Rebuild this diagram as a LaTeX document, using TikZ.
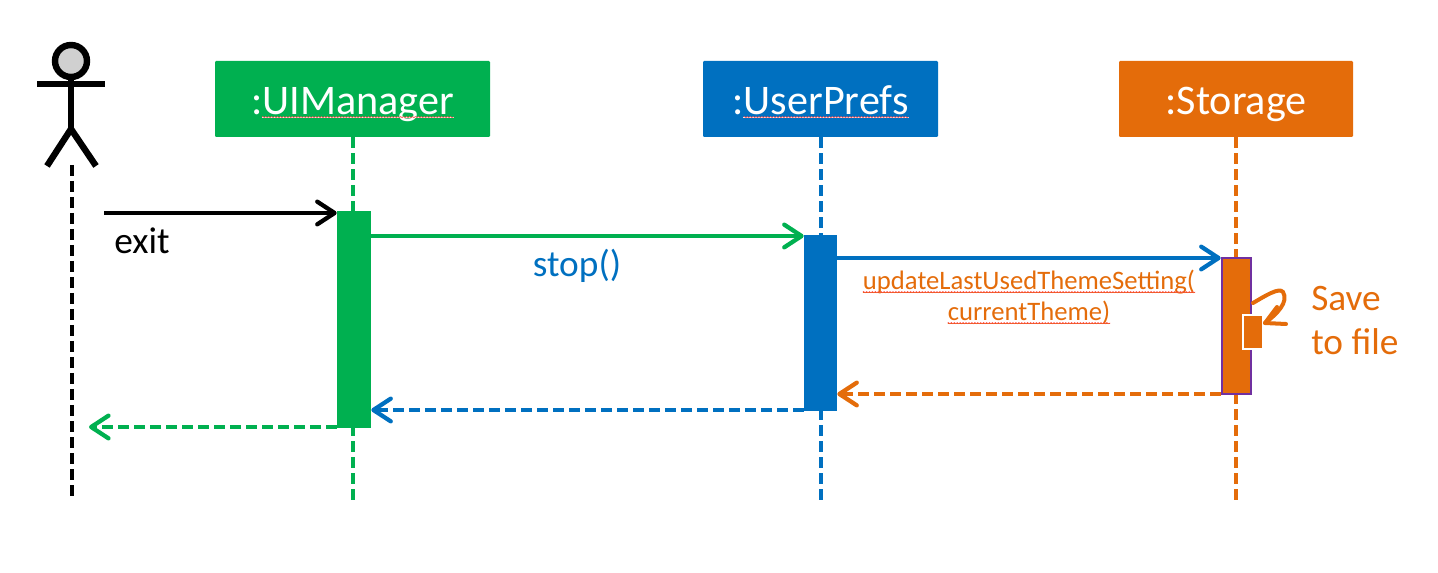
\documentclass[tikz,border=0pt]{standalone}
\usepackage{fontspec}
\setmainfont{Carlito}
\usetikzlibrary{arrows.meta,decorations.pathmorphing}
\definecolor{cgreen}{HTML}{00B050}
\definecolor{cblue}{HTML}{0070C0}
\definecolor{corange}{HTML}{E46C0A}
\definecolor{cpurple}{HTML}{7030A0}
\definecolor{chead}{HTML}{D0D0D0}
\tikzset{
  head/.style={fill=#1,draw=none,text=white,minimum height=57pt,inner sep=0pt,rounded corners=0.8pt},
  bar/.style={fill=#1,draw=none,inner sep=0pt},
  lifeline/.style={draw=#1,line width=3pt,dash pattern=on 8.3pt off 3.7pt},
  call/.style={draw=#1,line width=3.2pt,-{Straight Barb[length=13pt,width=17pt,line width=3.2pt,round]}},
  reply/.style={call=#1,dash pattern=on 8.3pt off 3.7pt},
  label/.style={inner sep=0pt,anchor=base},
  headtext/.style={label,text=white,font=\fontsize{31.6}{36}\selectfont},
  biglabel/.style={label,font=\fontsize{28}{32}\selectfont},
  smalllabel/.style={label,text=corange,font=\fontsize{20}{24}\selectfont},
  actorline/.style={draw=black,line width=4.8pt},
  squiggle/.style={draw=red!70!white,line width=0.4pt,decorate,decoration={snake,amplitude=0.5pt,segment length=2.2pt}},
}
\begin{document}
\begin{tikzpicture}[x=0.75pt,y=-0.75pt]
\useasboundingbox (0,0) rectangle (1438,573);

% heads
\node[head=cgreen,minimum width=206.25pt] (ui) at (352.5,99) {};
\node[head=cblue,minimum width=176.25pt] (up) at (820.5,99) {};
\node[head=corange,minimum width=175.5pt] (st) at (1236,99) {};
\node[headtext] (uit) at (352.5,114.5) {:UIManager};
\node[headtext] (upt) at (820.5,114.5) {:UserPrefs};
\node[headtext] (stt) at (1236,114.5) {:Storage};
\draw[white,line width=0.6pt] ([yshift=-2pt]uit.base west) ++(11,0) -- ([yshift=-2pt]uit.base east);
\draw[squiggle] ([yshift=-2pt]uit.base west) ++(11,0) -- ([yshift=-2pt]uit.base east);
\draw[white,line width=0.6pt] ([yshift=-2pt]upt.base west) ++(11,0) -- ([yshift=-2pt]upt.base east);
\draw[squiggle] ([yshift=-2pt]upt.base west) ++(11,0) -- ([yshift=-2pt]upt.base east);

% free ends
\coordinate (uiend) at (353,500);
\coordinate (upend) at (820.5,500);
\coordinate (stend) at (1236,500);
\coordinate (actop) at (72,165);
\coordinate (acend) at (72,497);
\coordinate (exitstart) at (104,213);
\coordinate (retend) at (89,427);

% lifelines
\draw[lifeline=cgreen] (uiend |- ui.south) -- (uiend);
\draw[lifeline=cblue] (up.south) -- (upend);
\draw[lifeline=corange] (st.south) -- (stend);
\draw[lifeline=black] (actop) -- (acend);

% actor
\node[circle,draw=black,fill=chead,line width=4.8pt,minimum size=24pt,inner sep=0pt] (achead) at (71,61) {};
\coordinate (arml) at (37,84);
\coordinate (armr) at (105,84);
\coordinate (hip) at (71,129);
\coordinate (legl) at (47,166);
\coordinate (legr) at (96,166);
\draw[actorline] (arml) -- (armr);
\draw[actorline] (achead.south) -- (hip);
\draw[actorline,miter limit=10] (legl) -- (hip) -- (legr);

% activations
\node[bar=cgreen,minimum width=25.5pt,minimum height=162.75pt] (a1) at (354,319.5) {};
\node[bar=cblue,minimum width=24.75pt,minimum height=132pt] (a2) at (820.5,323) {};
\node[fill=corange,draw=cpurple,line width=1.5pt,inner sep=0pt,minimum width=21.75pt,minimum height=102pt] (a3) at (1236.2,326) {};
\node[fill=corange,draw=white,line width=1.5pt,inner sep=0pt,minimum width=14.5pt,minimum height=25.5pt] (a4) at (1253,332.5) {};

% messages
\coordinate (m1) at (0,213);
\coordinate (m2) at (0,236);
\coordinate (m3) at (0,258);
\coordinate (m4) at (0,394);
\coordinate (m5) at (0,410);
\coordinate (m6) at (0,427);
\draw[call=black] (exitstart) -- (a1.west |- m1);
\draw[call=cgreen] (a1.east |- m2) -- (a2.west |- m2);
\draw[call=cblue] (a2.east |- m3) -- (a3.west |- m3);
\draw[reply=corange] (a3.west |- m4) -- (a2.east |- m4);
\draw[reply=cblue] (a2.west |- m5) -- (a1.east |- m5);
\draw[reply=cgreen] (a1.west |- m6) -- (retend);

% self call
\coordinate (sc) at (1253,303);
\coordinate (sce) at (1265,323);
\draw[draw=corange,line width=3pt,line cap=round] (sc) .. controls (1265,296) and (1279,287) .. (1283,292) .. controls (1289,302) and (1277,314) .. (sce);
\coordinate (sca) at (1277,307);
\coordinate (scb) at (1286,324);
\draw[draw=corange,line width=3pt,line cap=round,line join=round] (sca) -- (sce) -- (scb);

% labels
\node[biglabel,text=black] (lexit) at (142,254) {exit};
\node[biglabel,text=cblue] (lstop) at (577,277) {stop()};
\node[smalllabel] (lu1) at (1029,290) {updateLastUsedThemeSetting(};
\node[smalllabel] (lu2) at (1029,321) {currentTheme)};
\node[biglabel,anchor=base west,text=corange] (ls1) at (1311,311) {Save};
\node[biglabel,anchor=base west,text=corange] (ls2) at (1311,355) {to file};
\draw[corange,line width=0.4pt] ([yshift=-1.6pt]lu1.base west) -- ([yshift=-1.6pt]lu1.base east);
\draw[corange,line width=0.4pt] ([yshift=-1.6pt]lu2.base west) -- ([yshift=-1.6pt]lu2.base east);
\draw[squiggle] ([yshift=-1.6pt]lu1.base west) -- ([yshift=-1.6pt]lu1.base east);
\draw[squiggle] ([yshift=-1.6pt]lu2.base west) -- ([yshift=-1.6pt]lu2.base east);
\end{tikzpicture}
\end{document}
